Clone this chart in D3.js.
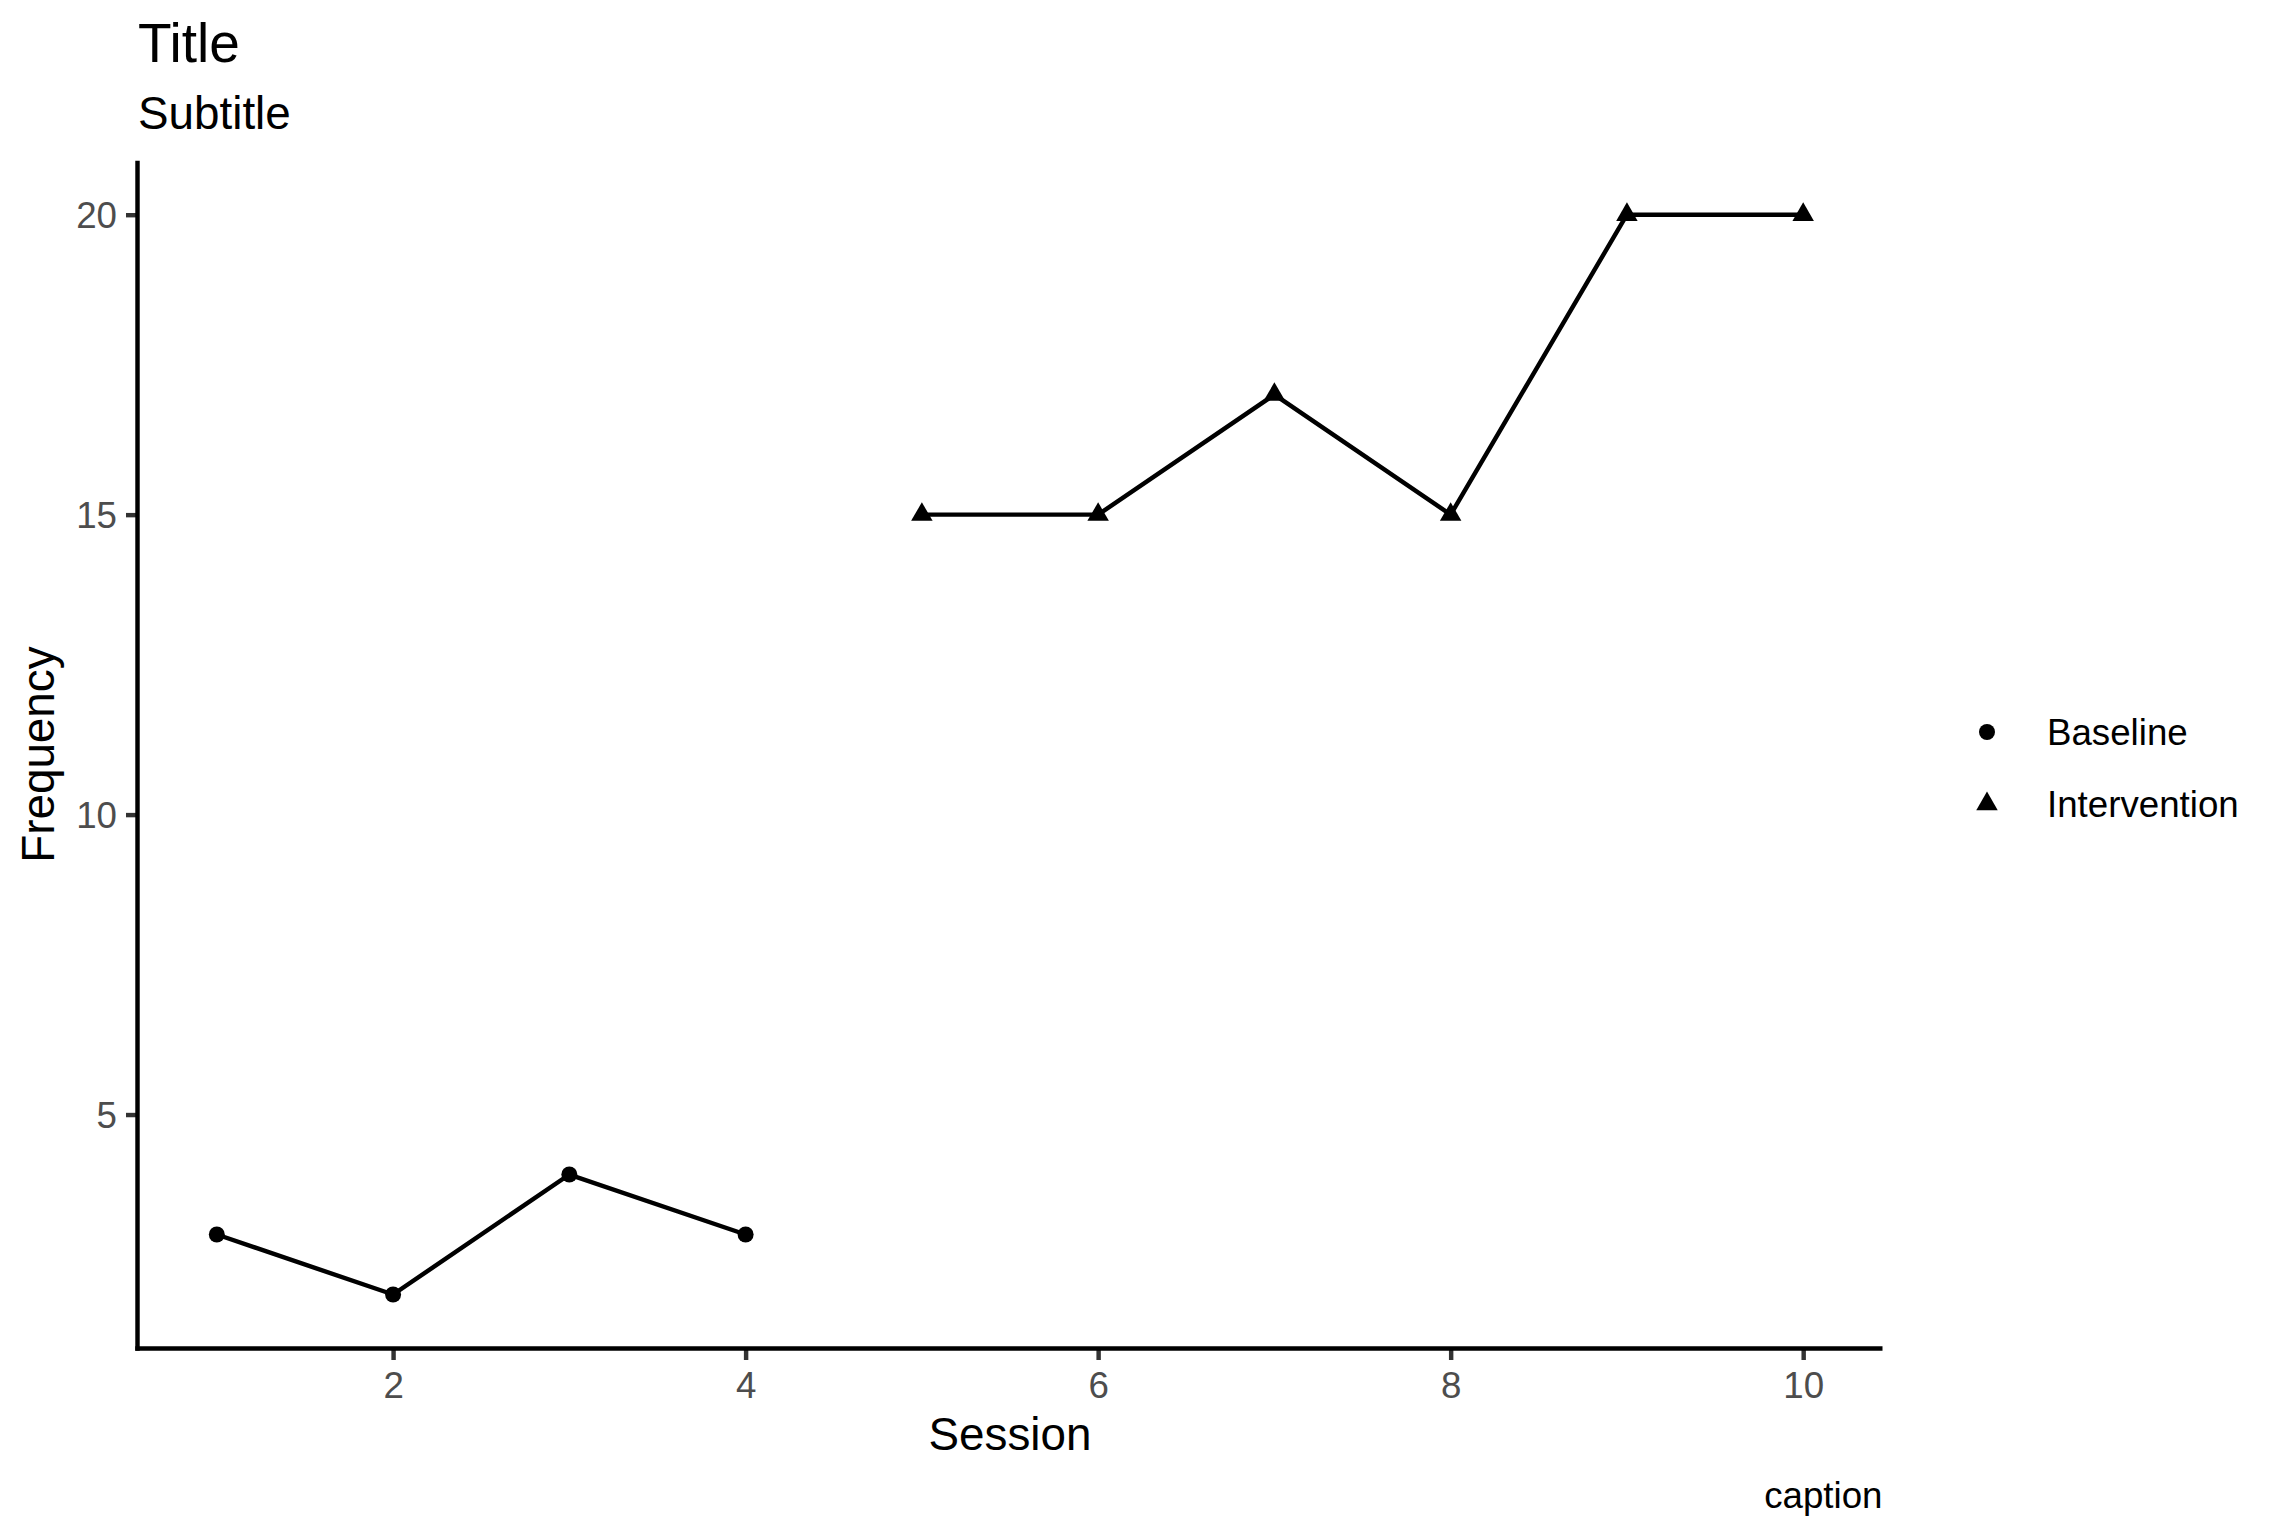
<!DOCTYPE html>
<html>
<head>
<meta charset="utf-8">
<script src="https://cdn.jsdelivr.net/npm/d3@7"></script>
<style>
  html, body { margin: 0; padding: 0; background: #fff; }
  text { font-family: "Liberation Sans", Arial, Helvetica, sans-serif; }
</style>
</head>
<body>
<script>
// ---- data ----
const phases = ["Baseline", "Intervention"];
const baselineSessions = [1, 2, 3, 4];
const baselineValues = [3, 2, 4, 3];
const interventionSessions = [5, 6, 7, 8, 9, 10];
const interventionValues = [15, 15, 17, 15, 20, 20];
const xTicks = [2, 4, 6, 8, 10];
const yTicks = [5, 10, 15, 20];
const titleText = "Title";
const subtitleText = "Subtitle";
const captionText = "caption";
const xLabel = "Session";
const yLabel = "Frequency";

const W = 2283, H = 1537;
const panel = { left: 137.5, right: 1882.5, top: 160.7, bottom: 1348.5 };

const svg = d3.select("body").append("svg")
  .attr("width", W).attr("height", H)
  .attr("viewBox", `0 0 ${W} ${H}`);

svg.append("rect").attr("width", W).attr("height", H).attr("fill", "#fff");

// scales with ggplot-like 5% expansion
const xMin = 1, xMax = 10, yMin = 2, yMax = 20;
const xPad = (xMax - xMin) * 0.05, yPad = (yMax - yMin) * 0.05;
const x = d3.scaleLinear().domain([xMin - xPad, xMax + xPad]).range([panel.left, panel.right]);
const y = d3.scaleLinear().domain([yMin - yPad, yMax + yPad]).range([panel.bottom, panel.top]);

const lw = 4.44;
const tickColor = "#333333";
const tickLabelColor = "#4D4D4D";
const tickFont = 36.7;

// axes
const xAxis = d3.axisBottom(x).tickValues(xTicks).tickSize(11.5).tickPadding(9).tickFormat(d3.format("d"));
const yAxis = d3.axisLeft(y).tickValues(yTicks).tickSize(11.5).tickPadding(9).tickFormat(d3.format("d"));

const gx = svg.append("g").attr("transform", `translate(0,${panel.bottom})`).call(xAxis);
const gy = svg.append("g").attr("transform", `translate(${panel.left},0)`).call(yAxis);

[gx, gy].forEach(g => {
  g.select(".domain").remove();
  g.selectAll(".tick line").attr("stroke", tickColor).attr("stroke-width", lw);
  g.selectAll(".tick text")
    .attr("fill", tickLabelColor)
    .attr("font-size", tickFont)
    .attr("font-family", "Liberation Sans, Arial, sans-serif");
});
gx.selectAll(".tick text").attr("dy", null).attr("y", 49);
gy.selectAll(".tick text").attr("dy", "0.36em");

// axis lines
svg.append("line")
  .attr("x1", panel.left).attr("x2", panel.left)
  .attr("y1", panel.top).attr("y2", panel.bottom + lw / 2)
  .attr("stroke", "#000").attr("stroke-width", lw).attr("stroke-linecap", "butt");
svg.append("line")
  .attr("x1", panel.left - lw / 2).attr("x2", panel.right)
  .attr("y1", panel.bottom).attr("y2", panel.bottom)
  .attr("stroke", "#000").attr("stroke-width", lw).attr("stroke-linecap", "butt");

// series
const series = [
  { name: phases[0], xs: baselineSessions, ys: baselineValues, symbol: d3.symbolCircle, size: Math.PI * 8 * 8 },
  { name: phases[1], xs: interventionSessions, ys: interventionValues, symbol: d3.symbolTriangle, size: 200 }
];

const line = d3.line().x(d => x(d[0])).y(d => y(d[1]));

series.forEach(s => {
  const pts = s.xs.map((v, i) => [v, s.ys[i]]);
  svg.append("path")
    .datum(pts)
    .attr("d", line)
    .attr("fill", "none")
    .attr("stroke", "#000")
    .attr("stroke-width", lw)
    .attr("stroke-linejoin", "round");
  svg.append("g").selectAll("path")
    .data(pts)
    .join("path")
    .attr("transform", d => `translate(${x(d[0])},${y(d[1])})`)
    .attr("d", d3.symbol().type(s.symbol).size(s.size))
    .attr("fill", "#000");
});

// titles
svg.append("text").attr("x", 138).attr("y", 62).attr("font-size", 55).attr("fill", "#000").text(titleText);
svg.append("text").attr("x", 138).attr("y", 129).attr("font-size", 45.8).attr("fill", "#000").text(subtitleText);

// axis titles
svg.append("text")
  .attr("x", (panel.left + panel.right) / 2).attr("y", 1450)
  .attr("text-anchor", "middle").attr("font-size", 45.8).attr("fill", "#000")
  .text(xLabel);
svg.append("text")
  .attr("transform", `translate(54,${(panel.top + panel.bottom) / 2}) rotate(-90)`)
  .attr("text-anchor", "middle").attr("font-size", 45.8).attr("fill", "#000")
  .text(yLabel);

// caption
svg.append("text")
  .attr("x", panel.right).attr("y", 1508)
  .attr("text-anchor", "end").attr("font-size", 36.7).attr("fill", "#000")
  .text(captionText);

// legend
const legendKeyX = 1987;
const legendY = [732, 804];
const legend = svg.append("g");
series.forEach((s, i) => {
  legend.append("path")
    .attr("transform", `translate(${legendKeyX},${legendY[i]})`)
    .attr("d", d3.symbol().type(s.symbol).size(s.size))
    .attr("fill", "#000");
  legend.append("text")
    .attr("x", 2047).attr("y", legendY[i])
    .attr("dy", "0.36em")
    .attr("font-size", 36.7).attr("fill", "#000")
    .text(s.name);
});
</script>
</body>
</html>
